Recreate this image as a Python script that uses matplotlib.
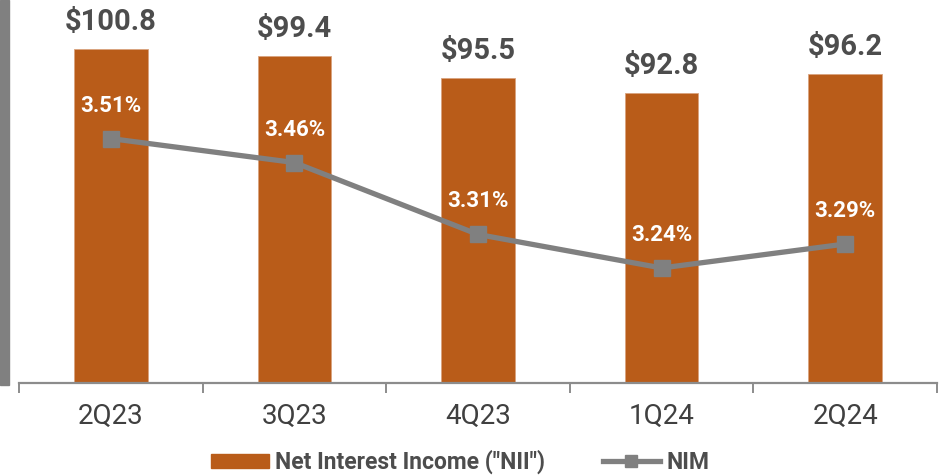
import matplotlib
matplotlib.use("Agg")
import matplotlib.pyplot as plt
from matplotlib.patches import Rectangle
from matplotlib.lines import Line2D
from matplotlib.patches import Patch

plt.rcParams['font.family'] = ['Roboto', 'DejaVu Sans']

quarters = ["2Q23", "3Q23", "4Q23", "1Q24", "2Q24"]
nii = [100.8, 99.4, 95.5, 92.8, 96.2]
nim = [3.51, 3.46, 3.31, 3.24, 3.29]

bar_color = '#B95C19'
line_color = '#808080'
text_gray = '#4D4D4D'

fig = plt.figure(figsize=(9.4, 4.75), dpi=100)
W, H = 940, 475
ax = fig.add_axes([19 / W, (H - 383) / H, 918 / W, 357.5 / H])
x = list(range(len(quarters)))

ax.bar(x, nii, width=0.4, color=bar_color, edgecolor='#D9A37F', linewidth=0.6, zorder=2)
ax.set_ylim(40, 105)
ax.set_xlim(-0.5, 4.5)
for xi, v in zip(x, nii):
    ax.annotate(f"${v}", (xi, v), xytext=(0, 19.5), textcoords='offset points',
                ha='center', va='center', fontsize=21, fontweight='bold', color=text_gray)

ax.set_yticks([])
for s in ['left', 'right', 'top']:
    ax.spines[s].set_visible(False)
ax.spines['bottom'].set_color('#8C8C8C')
ax.spines['bottom'].set_linewidth(1.6)
ax.set_xticks([i - 0.5 for i in range(len(quarters) + 1)], minor=False)
ax.set_xticklabels([])
ax.tick_params(axis='x', which='major', length=7, width=1.4, color='#8C8C8C', direction='out')
ax.set_xticks(x, minor=True)
ax.set_xticklabels(quarters, minor=True, fontsize=20, color='#404040')
ax.tick_params(axis='x', which='minor', length=0, pad=14)

ax2 = ax.twinx()
ax2.plot(x, nim, color=line_color, linewidth=3.8, marker='s', markersize=11, zorder=3)
ax2.set_ylim(3.0, 3.746)
ax2.set_yticks([])
for s in ax2.spines.values():
    s.set_visible(False)
for xi, v in zip(x, nim):
    ax2.annotate(f"{v:.2f}%", (xi, v), xytext=(0, 23.8), textcoords='offset points',
                 ha='center', va='center', fontsize=16, fontweight='bold', color='white')

# gray strip on the left edge
fig.patches.append(Rectangle((0, (H - 385) / H), 9 / W, 385 / H, transform=fig.transFigure,
                             color='#808080', zorder=0))

handles = [Patch(facecolor=bar_color, edgecolor=bar_color),
           Line2D([0], [0], color=line_color, linewidth=3.8, marker='s', markersize=9)]
fig.legend(handles, ['Net Interest Income ("NII")', 'NIM'], loc='center',
           bbox_to_anchor=(0.49, (H - 462) / H), ncol=2, frameon=False,
           prop={'weight': 'bold', 'size': 16.5}, labelcolor=text_gray,
           handlelength=2.5, handleheight=0.55, handletextpad=0.3, columnspacing=2.5)

fig.savefig("out.png", dpi=100)
